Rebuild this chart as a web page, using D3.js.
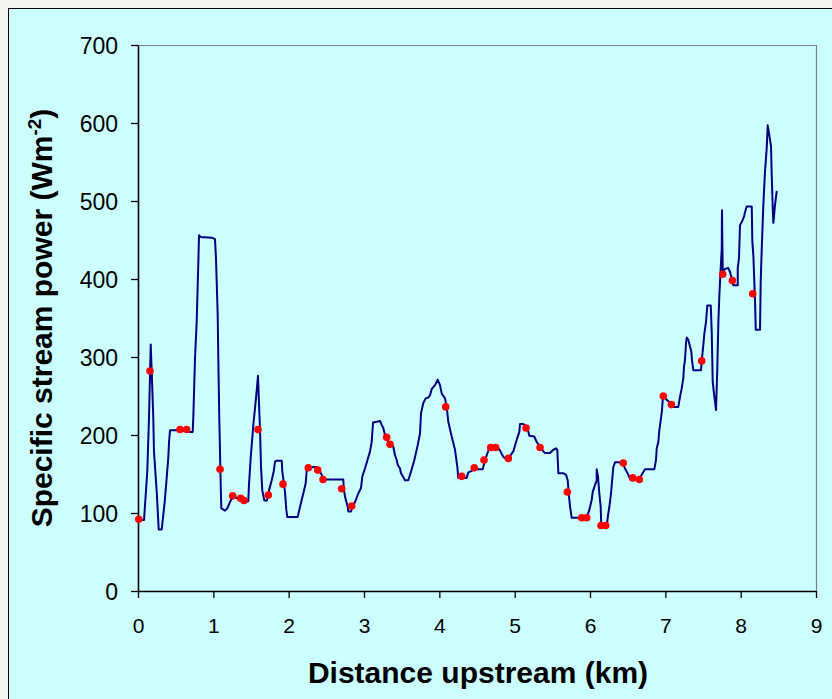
<!DOCTYPE html>
<html><head><meta charset="utf-8">
<script src="https://cdn.jsdelivr.net/npm/d3@7"></script>
<style>html,body{margin:0;padding:0;background:#f4f4ee;}svg{display:block;}</style>
</head><body>
<svg id="c" width="832" height="699"></svg>
<script>
// Continuous profile: distance (km) and specific stream power (W m^-2)
const lineKm = [0,0.08,0.123,0.146,0.169,0.182,0.203,0.212,0.248,0.275,0.315,0.354,0.381,0.402,0.412,0.425,0.558,0.69,0.726,0.734,0.757,0.779,0.8,0.81,0.832,0.978,1.022,1.035,1.058,1.066,1.079,1.098,1.106,1.155,1.185,1.221,1.265,1.31,1.377,1.42,1.464,1.473,1.496,1.531,1.566,1.593,1.606,1.62,1.633,1.65,1.677,1.712,1.739,1.775,1.801,1.819,1.841,1.908,1.916,1.951,1.969,1.982,2.12,2.151,2.194,2.226,2.24,2.261,2.327,2.372,2.403,2.439,2.46,2.725,2.731,2.748,2.784,2.792,2.828,2.845,2.881,2.924,2.96,2.978,3.013,3.08,3.102,3.12,3.169,3.213,3.235,3.256,3.279,3.323,3.389,3.412,3.434,3.447,3.478,3.491,3.522,3.544,3.588,3.624,3.668,3.713,3.743,3.757,3.787,3.819,3.854,3.876,3.899,3.943,3.978,4.009,4.032,4.075,4.098,4.119,4.164,4.208,4.239,4.252,4.363,4.385,4.43,4.46,4.576,4.597,4.629,4.663,4.695,4.77,4.806,4.849,4.894,4.938,4.982,5.027,5.062,5.071,5.115,5.168,5.194,5.261,5.293,5.327,5.38,5.403,5.469,5.513,5.549,5.566,5.58,5.646,5.682,5.704,5.718,5.735,5.757,5.956,5.991,6.023,6.036,6.067,6.089,6.089,6.106,6.124,6.142,6.15,6.222,6.239,6.257,6.279,6.292,6.31,6.332,6.376,6.434,6.465,6.509,6.531,6.655,6.686,6.73,6.854,6.876,6.886,6.907,6.92,6.939,6.956,6.965,6.973,7.018,7.072,7.106,7.172,7.195,7.218,7.239,7.248,7.261,7.275,7.284,7.305,7.328,7.345,7.354,7.372,7.474,7.483,7.504,7.518,7.54,7.557,7.603,7.616,7.629,7.646,7.673,7.69,7.704,7.717,7.735,7.749,7.752,7.762,7.793,7.836,7.859,7.881,7.902,7.961,7.961,7.978,7.991,8.014,8.045,8.058,8.08,8.147,8.155,8.168,8.191,8.2,8.257,8.266,8.28,8.301,8.323,8.346,8.359,8.376,8.403,8.412,8.426,8.434,8.456,8.479];
const linePower = [91,91,153,222,316,281,222,179,128,79,79,114,145,171,191,206,206,204,204,222,299,345,418,456,454,453,451,427,354,299,222,136,106,103,106,114,122,119,118,115,115,136,171,213,247,276,241,206,159,129,116,116,129,142,153,166,167,167,153,127,104,95,95,108,125,138,155,157,159,159,155,149,143,143,132,121,108,102,102,108,114,125,132,147,157,179,191,216,217,218,213,209,200,191,185,174,168,162,157,151,146,142,142,153,168,187,202,228,241,247,248,251,259,264,271,264,253,247,236,217,198,181,159,145,145,152,154,156,156,164,174,183,185,185,180,172,169,173,179,194,204,214,214,210,199,198,191,186,179,177,177,181,183,181,151,151,149,142,125,108,94,94,104,117,127,136,142,156,147,125,108,83,83,97,108,125,140,159,165,165,164,157,149,144,143,149,156,156,168,183,191,206,219,232,245,250,245,241,236,236,249,260,273,288,296,318,325,322,313,307,296,283,283,295,315,330,345,366,366,332,268,253,232,286,345,379,414,439,488,409,413,414,409,401,392,392,414,427,469,473,480,486,493,493,448,431,371,335,335,397,439,495,538,568,597,587,570,533,491,472,495,513];
// Surveyed points (red markers)
const pointKm = [0.01,0.159,0.558,0.646,1.089,1.257,1.363,1.407,1.593,1.73,1.925,2.261,2.386,2.456,2.704,2.837,3.301,3.345,4.085,4.297,4.464,4.593,4.682,4.748,4.916,5.151,5.337,5.699,5.89,5.956,6.146,6.209,6.442,6.567,6.655,6.973,7.08,7.483,7.762,7.89,8.16];
const pointPower = [92,282,207,207,156,122,119,116,207,123,137,158,155,143,131,109,197,188,236,147,158,168,184,184,170,209,184,127,94,94,84,84,164,145,143,250,239,295,406,398,381];
const xTicks = [0,1,2,3,4,5,6,7,8,9];
const yTicks = [0,100,200,300,400,500,600,700];

const svg = d3.select("#c");
// chart area background
svg.append("rect").attr("x",8.5).attr("y",8.5).attr("width",840).attr("height",720)
  .attr("fill","#ccffff").attr("stroke","#000").attr("stroke-width",1);

const L=138, R=816, T=45, B=591;
const x = d3.scaleLinear().domain([0,9]).range([L,R]);
const y = d3.scaleLinear().domain([0,700]).range([B,T]);

// plot frame (top/right grey)
svg.append("path").attr("d",`M${L},${T+0.5}H${R+0.5}V${B}`).attr("fill","none").attr("stroke","#808080").attr("stroke-width",1.2);

const font = "'Liberation Sans', Arial, sans-serif";
const yAxis = svg.append("g").attr("transform",`translate(${L},0)`)
  .call(d3.axisLeft(y).tickValues(yTicks).tickSize(7).tickSizeOuter(0).tickPadding(13));
const xAxis = svg.append("g").attr("transform",`translate(0,${B})`)
  .call(d3.axisBottom(x).tickValues(xTicks).tickSize(7).tickSizeOuter(0).tickPadding(24));
[yAxis,xAxis].forEach(a=>{
  a.select(".domain").attr("stroke","#000").attr("stroke-width",1.6);
  a.selectAll(".tick line").attr("stroke","#000").attr("stroke-width",1.3);
  a.selectAll("text").attr("font-family",font).attr("fill","#000");
});
yAxis.selectAll("text").attr("font-size",23).attr("dy","0.36em");
xAxis.selectAll("text").attr("font-size",21).attr("dy","0.5em");

// line
const line = d3.line().x((d,i)=>x(lineKm[i])).y((d,i)=>y(linePower[i]));
svg.append("path").datum(linePower).attr("d",line).attr("fill","none")
  .attr("stroke","#000080").attr("stroke-width",2).attr("stroke-linejoin","round");

// points
svg.append("g").selectAll("circle").data(pointPower).join("circle")
  .attr("cx",(d,i)=>x(pointKm[i])).attr("cy",d=>y(d)).attr("r",3.8).attr("fill","#ff0000");

// axis titles
svg.append("text").attr("x",478).attr("y",683).attr("text-anchor","middle")
  .attr("font-family",font).attr("font-weight","bold").attr("font-size",30).text("Distance upstream (km)");
const yt = svg.append("text").attr("transform","translate(52,318) rotate(-90)").attr("text-anchor","middle")
  .attr("font-family",font).attr("font-weight","bold").attr("font-size",30);
yt.append("tspan").text("Specific stream power (Wm");
yt.append("tspan").attr("dy",-11).attr("font-size",19).text("-2");
yt.append("tspan").attr("dy",11).text(")");
</script>
</body></html>
